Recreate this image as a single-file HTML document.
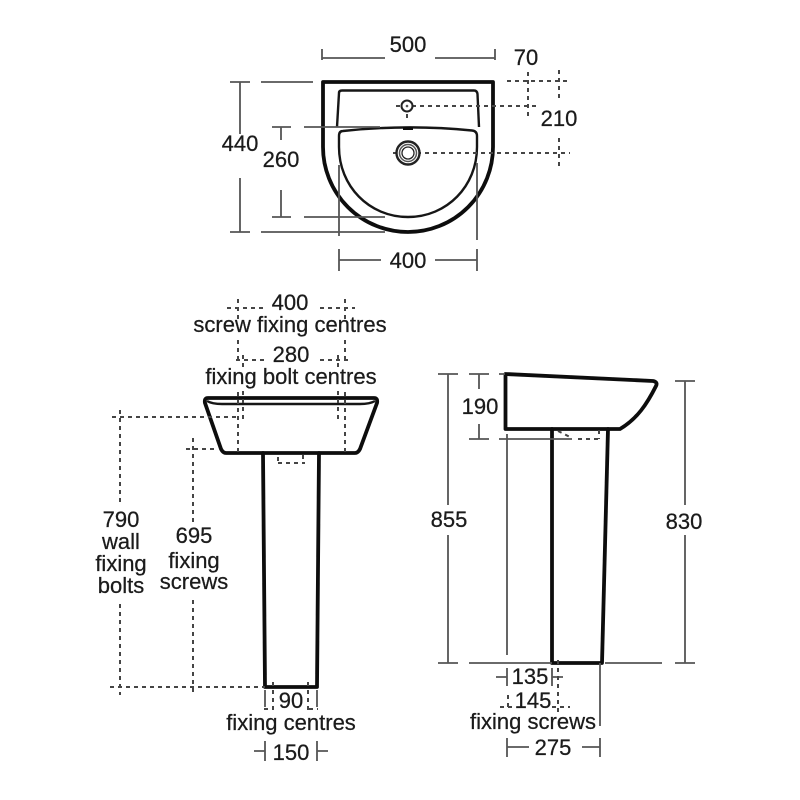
<!DOCTYPE html>
<html>
<head>
<meta charset="utf-8">
<style>
html,body{margin:0;padding:0;background:#fff;width:800px;height:800px;overflow:hidden}
svg{display:block}
text{font-family:"Liberation Sans",sans-serif;font-size:22px;fill:#1a1a1a;stroke:#1a1a1a;stroke-width:.25;text-anchor:middle}
.o{fill:none;stroke:#0c0c0c;stroke-width:3.8;stroke-linejoin:round;stroke-linecap:round}
.m{fill:none;stroke:#181818;stroke-width:2.4;stroke-linejoin:round}
.d{fill:none;stroke:#555;stroke-width:1.8}
.h{fill:none;stroke:#444;stroke-width:2;stroke-dasharray:4 4}
</style>
</head>
<body>
<svg width="800" height="800" viewBox="0 0 800 800" xmlns="http://www.w3.org/2000/svg">
<defs><filter id="b" x="0" y="0" width="100%" height="100%"><feGaussianBlur stdDeviation="0.35"/></filter></defs>
<g filter="url(#b)">

<!-- TOP VIEW -->
<path class="o" d="M323 82H493V147A85 85 0 0 1 323 147Z"/>
<path class="m" d="M337 127L339 93Q339 90.500 342 90.500H474Q477 90.500 477.500 94L479 127"/>
<path class="m" d="M339 136Q339 131 343 131Q408 124 472 130.500Q477 131 477 136V147C477 186 447 217 408 217C369 217 339 186 339 147Z"/>
<path d="M403 128.500h10" stroke="#111" stroke-width="3"/>
<path class="d" d="M322 49V60M322 58H385M435 58H495M495 49V60"/>
<path class="d" d="M230 82H250M261 82H313M240 82V134M240 178V232M230 232H250M261 232H385"/>
<path class="d" d="M272 127H291M304 127H380M281 127V140M281 190V217M272 217H291M304 217H385"/>
<path class="d" d="M339 165V236M477 163V240"/>
<path class="d" d="M339 249V271M339 260H381M435 260H477M477 249V271"/>
<path class="h" d="M507 81H570M396 106H540M393 153H570M528 72V118M559 70V100M559 138V166M407 114V118"/>
<circle cx="407" cy="106" r="5.500" fill="#fff" stroke="#222" stroke-width="2"/>
<circle cx="407" cy="106" r="1.300" fill="#555"/>
<circle cx="408" cy="153" r="11.500" fill="#fff" stroke="#222" stroke-width="2.400"/>
<circle cx="408" cy="153" r="8.500" fill="none" stroke="#555" stroke-width="1.500"/>
<circle cx="408" cy="153" r="6" fill="#fff" stroke="#222" stroke-width="1.300"/>
<text x="408" y="52">500</text>
<text x="526" y="65">70</text>
<text x="559" y="126">210</text>
<text x="240" y="151">440</text>
<text x="281" y="167">260</text>
<text x="408" y="268">400</text>

<!-- FRONT VIEW -->
<path class="o" d="M208 398H374Q378 398 377 403L360 449Q358 453 355 453H226Q223 453 221 449L205 403Q204 398 208 398Z"/>
<path class="m" d="M207 401Q212 404 222 404H360Q370 404 375 401" stroke-width="1.600"/>
<path class="o" d="M263 453L265 687H317L319 453"/>
<path class="h" d="M227 308H263M320 308H355M238 299V320M345 299V320M238 340V362M345 340V362M236 360H265M320 360H348M243 355V368M338 355V368M238 392V453M345 392V453M243 391V420M338 391V420M112 417H238M120 410V502M120 604V695M186 449H218M193 438V522M193 600V696M110 687H265M273 682V713M308 682V713M264 709H272M309 709H318M278 457V461M278 463H305M303 455V463"/>
<path class="d" d="M265 690V707M317 690V707"/>
<path class="d" d="M254 751H265M265 741V761M317 741V761M317 751H328"/>
<text x="290" y="310">400</text>
<text x="290" y="332">screw fixing centres</text>
<text x="291" y="362">280</text>
<text x="291" y="384">fixing bolt centres</text>
<text x="121" y="527">790</text>
<text x="121" y="549">wall</text>
<text x="121" y="571">fixing</text>
<text x="121" y="593">bolts</text>
<text x="194" y="543">695</text>
<text x="194" y="568">fixing</text>
<text x="194" y="589">screws</text>
<text x="291" y="708">90</text>
<text x="291" y="730">fixing centres</text>
<text x="291" y="760">150</text>

<!-- SIDE VIEW -->
<path class="o" d="M505.500 374L653 381Q658 382 656 386C647 404 637 419 620 429H505.500Z"/>
<path class="o" d="M552 429V663H602L608 429"/>
<path class="d" d="M438 374H458M469 374H489M499 374H505M448 374V505M448 535V663M438 663H458M469 663H552M605 663H662M675 663H695"/>
<path class="d" d="M479 374V389M479 424V439M469 439H489M499 439H572M507 434V655"/>
<path class="d" d="M675 381H695M685 381V505M685 535V663"/>
<path class="d" d="M507 668V686M496 677H507M552 668V686M552 677H563M600 663V726"/>
<path class="d" d="M507 738V757M507 747H529M582 747H600M600 738V757"/>
<path class="h" d="M508 695V708M558 660V712M500 707H512M552 707H570M578 439H600M599 430V439M558 431L572 438"/>
<text x="530" y="684">135</text>
<text x="533" y="708">145</text>
<text x="533" y="729">fixing screws</text>
<text x="553" y="755">275</text>
<text x="480" y="414">190</text>
<text x="449" y="527">855</text>
<text x="684" y="529">830</text>
</g>
</svg>
</body>
</html>
